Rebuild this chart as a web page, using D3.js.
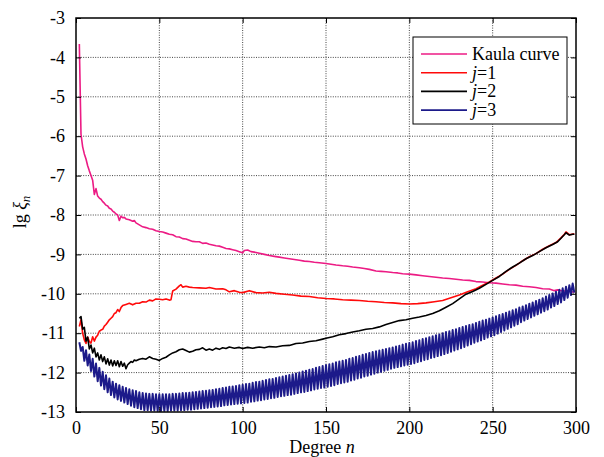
<!DOCTYPE html>
<html>
<head>
<meta charset="utf-8">
<script src="https://cdn.jsdelivr.net/npm/d3@7"></script>
<style>
  body { margin: 0; background: #fff; }
  svg { display: block; font-family: "Liberation Serif", "DejaVu Serif", serif; }
  .grid line { stroke: #444; stroke-dasharray: 1,1.4; stroke-width: 1; }
  .axis text { font-size: 18px; fill: #000; }
  .axis line { stroke: #000; }
  .series { fill: none; stroke-linejoin: round; }
</style>
</head>
<body>
<div id="chart"></div>
<script>
// tick values
const xTicks = [0, 50, 100, 150, 200, 250, 300];
const yTicks = [-3, -4, -5, -6, -7, -8, -9, -10, -11, -12, -13];

// Kaula curve, [degree, lg value]
const kaula = [[2,-3.66],[3,-5.95],[4,-6.27],[5,-6.45],[6,-6.58],[7,-6.75],[8,-6.88],[9,-7.0],[10,-7.12],[11,-7.48],[12,-7.33],[13,-7.52],[14,-7.57],[15,-7.6],[16,-7.66],[17,-7.7],[18,-7.75],[19,-7.77],[20,-7.83],[21,-7.85],[22,-7.9],[23,-7.93],[24,-7.97],[25,-8.0],[26,-8.14],[27,-8.03],[28,-8.07],[29,-8.06],[30,-8.1],[32,-8.12],[34,-8.16],[35,-8.14],[36,-8.2],[38,-8.25],[40,-8.3],[42,-8.32],[44,-8.35],[46,-8.36],[48,-8.4],[50,-8.42],[52,-8.43],[54,-8.46],[56,-8.49],[58,-8.5],[60,-8.55],[62,-8.56],[64,-8.6],[66,-8.61],[68,-8.64],[70,-8.67],[72,-8.68],[74,-8.68],[76,-8.72],[78,-8.71],[80,-8.74],[82,-8.76],[84,-8.78],[86,-8.79],[88,-8.82],[90,-8.85],[92,-8.86],[94,-8.88],[96,-8.9],[98,-8.93],[100,-8.96],[101,-8.9],[103,-8.89],[105,-8.93],[108,-8.95],[110,-8.97],[113,-9.0],[116,-9.03],[119,-9.05],[122,-9.07],[125,-9.09],[128,-9.11],[131,-9.13],[134,-9.15],[137,-9.17],[140,-9.18],[143,-9.2],[146,-9.21],[150,-9.23],[153,-9.25],[156,-9.27],[160,-9.29],[163,-9.3],[166,-9.32],[170,-9.34],[173,-9.36],[176,-9.38],[180,-9.42],[183,-9.43],[186,-9.44],[190,-9.46],[193,-9.47],[196,-9.49],[200,-9.5],[204,-9.52],[208,-9.54],[212,-9.56],[216,-9.58],[220,-9.6],[224,-9.61],[228,-9.63],[232,-9.65],[236,-9.66],[240,-9.69],[244,-9.7],[248,-9.72],[252,-9.73],[256,-9.75],[260,-9.77],[264,-9.78],[268,-9.81],[272,-9.82],[276,-9.84],[280,-9.87],[284,-9.88],[287,-9.92],[289,-9.9],[292,-9.93],[295,-9.93],[299,-9.96]];

// j=1
const j1 = [[2,-10.83],[3,-10.66],[4,-11.0],[5,-11.17],[6,-11.26],[7,-11.1],[8,-11.21],[9,-11.25],[10,-11.09],[11,-11.2],[12,-11.1],[13,-11.05],[14,-10.95],[15,-10.92],[16,-10.9],[17,-10.82],[18,-10.78],[19,-10.72],[20,-10.66],[21,-10.62],[22,-10.58],[23,-10.5],[24,-10.48],[25,-10.4],[26,-10.45],[27,-10.35],[28,-10.3],[30,-10.27],[32,-10.24],[34,-10.28],[36,-10.24],[38,-10.24],[40,-10.2],[42,-10.21],[44,-10.16],[46,-10.18],[48,-10.13],[50,-10.14],[52,-10.15],[54,-10.13],[56,-10.16],[57,-10.15],[58,-9.93],[60,-9.88],[62,-9.8],[63,-9.77],[64,-9.83],[66,-9.81],[68,-9.83],[70,-9.84],[74,-9.85],[78,-9.86],[80,-9.84],[84,-9.88],[88,-9.87],[90,-9.9],[92,-9.95],[95,-9.92],[98,-9.96],[100,-9.97],[104,-9.92],[108,-9.97],[112,-9.98],[116,-9.96],[120,-9.99],[125,-10.01],[130,-10.03],[135,-10.06],[140,-10.07],[145,-10.1],[150,-10.12],[155,-10.13],[160,-10.15],[165,-10.16],[170,-10.17],[175,-10.19],[180,-10.2],[185,-10.22],[190,-10.23],[195,-10.25],[200,-10.26],[205,-10.25],[210,-10.23],[215,-10.2],[220,-10.17],[225,-10.1],[230,-10.03],[235,-9.95],[240,-9.87],[244,-9.78],[248,-9.7],[252,-9.6],[256,-9.5],[260,-9.38],[264,-9.28],[268,-9.16],[272,-9.06],[276,-8.98],[280,-8.87],[284,-8.78],[288,-8.7],[291,-8.58],[293,-8.49],[294,-8.43],[296,-8.5],[299,-8.48]];

// j=2
const j2 = [[2,-10.62],[3,-10.58],[4,-10.9],[5,-10.85],[6,-11.2],[7,-11.1],[8,-11.4],[9,-11.3],[10,-11.5],[11,-11.38],[12,-11.6],[13,-11.5],[14,-11.68],[15,-11.55],[16,-11.72],[17,-11.6],[18,-11.78],[19,-11.65],[20,-11.81],[21,-11.68],[22,-11.83],[23,-11.7],[24,-11.82],[25,-11.7],[26,-11.85],[27,-11.72],[28,-11.84],[29,-11.76],[30,-11.9],[31,-11.8],[32,-11.76],[33,-11.72],[34,-11.74],[35,-11.68],[36,-11.7],[38,-11.66],[40,-11.64],[42,-11.66],[44,-11.6],[46,-11.64],[48,-11.66],[50,-11.69],[52,-11.64],[54,-11.61],[56,-11.55],[58,-11.5],[60,-11.47],[62,-11.42],[64,-11.4],[66,-11.44],[68,-11.48],[70,-11.46],[72,-11.42],[74,-11.41],[76,-11.37],[78,-11.43],[80,-11.4],[82,-11.43],[84,-11.38],[86,-11.41],[88,-11.37],[90,-11.39],[92,-11.35],[95,-11.38],[98,-11.36],[100,-11.39],[103,-11.36],[106,-11.38],[110,-11.35],[113,-11.37],[116,-11.34],[120,-11.35],[124,-11.32],[128,-11.31],[132,-11.26],[136,-11.25],[140,-11.21],[144,-11.19],[148,-11.15],[150,-11.13],[154,-11.09],[158,-11.04],[162,-11.01],[166,-10.97],[170,-10.94],[174,-10.9],[178,-10.88],[182,-10.84],[186,-10.78],[190,-10.73],[194,-10.68],[198,-10.66],[202,-10.62],[206,-10.59],[210,-10.55],[214,-10.5],[218,-10.43],[222,-10.34],[226,-10.25],[230,-10.13],[234,-10.01],[238,-9.94],[242,-9.86],[246,-9.76],[250,-9.66],[254,-9.56],[258,-9.43],[262,-9.32],[266,-9.22],[270,-9.11],[274,-9.03],[278,-8.93],[282,-8.83],[286,-8.75],[289,-8.68],[291,-8.59],[293,-8.5],[294,-8.45],[296,-8.51],[298,-8.49],[299,-8.49]];

// j=3 alternates every degree: even degrees 2..298 (upper), odd degrees 3..299 (lower)
const j3Even = [-11.23,-11.35,-11.43,-11.54,-11.65,-11.77,-11.88,-11.98,-12.07,-12.15,-12.23,-12.28,-12.32,-12.36,-12.39,-12.42,-12.45,-12.47,-12.50,-12.52,-12.53,-12.54,-12.54,-12.55,-12.55,-12.55,-12.55,-12.55,-12.54,-12.54,-12.53,-12.52,-12.52,-12.51,-12.50,-12.49,-12.48,-12.47,-12.46,-12.45,-12.44,-12.42,-12.41,-12.39,-12.38,-12.36,-12.35,-12.34,-12.32,-12.31,-12.29,-12.28,-12.26,-12.24,-12.23,-12.21,-12.19,-12.17,-12.16,-12.14,-12.12,-12.10,-12.08,-12.06,-12.04,-12.02,-12.00,-11.97,-11.95,-11.93,-11.91,-11.88,-11.86,-11.83,-11.81,-11.79,-11.77,-11.74,-11.72,-11.70,-11.68,-11.65,-11.63,-11.60,-11.58,-11.55,-11.53,-11.50,-11.48,-11.46,-11.44,-11.42,-11.40,-11.38,-11.36,-11.34,-11.32,-11.29,-11.27,-11.25,-11.23,-11.20,-11.18,-11.15,-11.13,-11.10,-11.08,-11.05,-11.03,-11.00,-10.97,-10.95,-10.92,-10.90,-10.87,-10.84,-10.82,-10.79,-10.77,-10.74,-10.71,-10.68,-10.66,-10.63,-10.60,-10.57,-10.54,-10.51,-10.48,-10.45,-10.42,-10.39,-10.35,-10.32,-10.29,-10.25,-10.22,-10.18,-10.15,-10.11,-10.07,-10.03,-9.99,-9.95,-9.90,-9.86,-9.82,-9.78,-9.74];
const j3Odd = [-11.45,-11.70,-11.82,-11.96,-12.10,-12.22,-12.33,-12.42,-12.50,-12.57,-12.63,-12.68,-12.72,-12.76,-12.80,-12.84,-12.88,-12.90,-12.93,-12.95,-12.95,-12.96,-12.96,-12.97,-12.97,-12.97,-12.97,-12.96,-12.96,-12.96,-12.95,-12.95,-12.94,-12.94,-12.93,-12.92,-12.91,-12.90,-12.89,-12.88,-12.87,-12.86,-12.85,-12.83,-12.82,-12.81,-12.80,-12.79,-12.78,-12.77,-12.76,-12.74,-12.73,-12.71,-12.70,-12.68,-12.67,-12.65,-12.64,-12.62,-12.60,-12.59,-12.57,-12.56,-12.54,-12.52,-12.50,-12.49,-12.47,-12.45,-12.43,-12.41,-12.39,-12.38,-12.36,-12.34,-12.32,-12.29,-12.27,-12.25,-12.23,-12.20,-12.18,-12.15,-12.13,-12.10,-12.08,-12.05,-12.03,-12.00,-11.98,-11.95,-11.93,-11.90,-11.88,-11.86,-11.84,-11.82,-11.80,-11.78,-11.76,-11.73,-11.71,-11.68,-11.66,-11.63,-11.61,-11.58,-11.56,-11.53,-11.50,-11.47,-11.44,-11.41,-11.38,-11.35,-11.31,-11.28,-11.24,-11.21,-11.18,-11.15,-11.11,-11.08,-11.05,-11.01,-10.97,-10.93,-10.89,-10.85,-10.81,-10.77,-10.72,-10.68,-10.64,-10.60,-10.56,-10.52,-10.48,-10.44,-10.40,-10.35,-10.31,-10.26,-10.22,-10.16,-10.10,-10.03,-9.97];

const seriesNames = ['Kaula curve', 'j=1', 'j=2', 'j=3'];
const seriesColors = ['#ec1b84', '#ff0a0a', '#000000', '#1c1a8a'];
const serif = '"Liberation Serif", "DejaVu Serif", serif';

// merge the j=3 halves into one degree-ordered series
const j3 = [];
j3Even.forEach((v, i) => {
    j3.push([2 + 2 * i, v]);
    if (i < j3Odd.length) j3.push([3 + 2 * i, j3Odd[i]]);
});
const allSeries = [kaula, j1, j2, j3];

const width = 604, height = 457;
const plot = {left: 76, right: 576, top: 18, bottom: 412};

const svg = d3.select('#chart').append('svg')
    .attr('width', width)
    .attr('height', height);

svg.append('rect').attr('width', width).attr('height', height).attr('fill', '#fff');

const x = d3.scaleLinear().domain([0, 300]).range([plot.left, plot.right]);
const y = d3.scaleLinear().domain([-13, -3]).range([plot.bottom, plot.top]);

// dotted grid
const grid = svg.append('g').attr('class', 'grid');
grid.selectAll('line.v')
    .data(xTicks.slice(1, -1))
    .join('line')
    .attr('x1', d => x(d)).attr('x2', d => x(d))
    .attr('y1', plot.top).attr('y2', plot.bottom);
grid.selectAll('line.h')
    .data(yTicks.slice(1, -1))
    .join('line')
    .attr('x1', plot.left).attr('x2', plot.right)
    .attr('y1', d => y(d)).attr('y2', d => y(d));

// series lines
const line = d3.line().x(d => x(d[0])).y(d => y(d[1]));
svg.append('g')
    .selectAll('path')
    .data(allSeries)
    .join('path')
    .attr('class', 'series')
    .attr('d', line)
    .attr('stroke', (d, i) => seriesColors[i])
    .attr('stroke-width', (d, i) => i === 3 ? 2 : 1.6);

// axes, ticks pointing inward like matlab
svg.append('g')
    .attr('class', 'axis')
    .attr('transform', `translate(0,${plot.bottom})`)
    .call(d3.axisBottom(x).tickValues(xTicks).tickSizeInner(-5).tickSizeOuter(0).tickPadding(9))
    .attr('font-family', serif)
    .call(g => g.select('.domain').remove());
svg.append('g')
    .attr('class', 'axis')
    .attr('transform', `translate(${plot.left},0)`)
    .call(d3.axisLeft(y).tickValues(yTicks).tickFormat(d => String(d)).tickSizeInner(-5).tickSizeOuter(0).tickPadding(11))
    .attr('font-family', serif)
    .call(g => g.select('.domain').remove());
svg.append('g')
    .attr('class', 'axis')
    .attr('transform', `translate(0,${plot.top})`)
    .call(d3.axisTop(x).tickValues(xTicks).tickSizeInner(-5).tickSizeOuter(0).tickFormat(''))
    .call(g => g.select('.domain').remove());
svg.append('g')
    .attr('class', 'axis')
    .attr('transform', `translate(${plot.right},0)`)
    .call(d3.axisRight(y).tickValues(yTicks).tickSizeInner(-5).tickSizeOuter(0).tickFormat(''))
    .call(g => g.select('.domain').remove());

svg.append('rect')
    .attr('x', plot.left).attr('y', plot.top)
    .attr('width', plot.right - plot.left).attr('height', plot.bottom - plot.top)
    .attr('fill', 'none').attr('stroke', '#000').attr('stroke-width', 1.5);

// axis titles
const xTitle = svg.append('text')
    .attr('x', 322).attr('y', 453)
    .attr('text-anchor', 'middle')
    .style('font-size', '18px');
xTitle.append('tspan').text('Degree ');
xTitle.append('tspan').style('font-style', 'italic').text('n');

const yTitle = svg.append('text')
    .attr('transform', 'translate(26,212) rotate(-90)')
    .attr('text-anchor', 'middle')
    .style('font-size', '18px');
yTitle.append('tspan').text('lg ');
yTitle.append('tspan').style('font-style', 'italic').text('ξ');
yTitle.append('tspan').style('font-style', 'italic').style('font-size', '13px').attr('dy', 4).text('n');

// legend
const legend = svg.append('g').attr('transform', 'translate(413,37)');
legend.append('rect')
    .attr('width', 154).attr('height', 87)
    .attr('fill', '#fff').attr('stroke', '#000').attr('stroke-width', 1);
const rows = legend.selectAll('g')
    .data(seriesNames)
    .join('g')
    .attr('transform', (d, i) => `translate(0,${17 + i * 18.7})`);
rows.append('line')
    .attr('x1', 8).attr('x2', 54)
    .attr('stroke', (d, i) => seriesColors[i])
    .attr('stroke-width', 1.6);
rows.append('text')
    .attr('x', 59).attr('y', 6)
    .style('font-size', '18px')
    .each(function(d) {
        const t = d3.select(this);
        if (d.startsWith('j=')) {
            t.append('tspan').style('font-style', 'italic').text('j');
            t.append('tspan').text(d.slice(1));
        } else {
            t.text(d);
        }
    });
</script>
</body>
</html>
